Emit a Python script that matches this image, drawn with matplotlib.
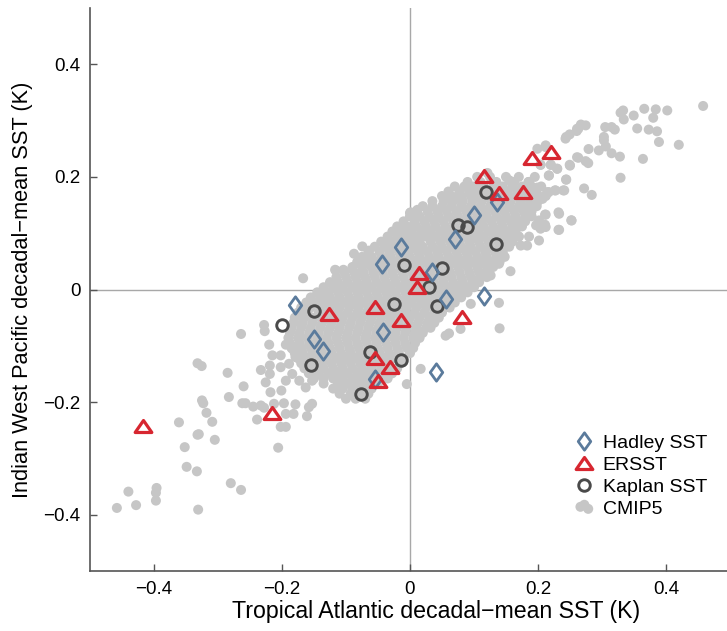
import numpy as np
import matplotlib
matplotlib.use("Agg")
import matplotlib.pyplot as plt
from matplotlib.path import Path

plt.rcParams['font.family'] = ['Liberation Sans', 'DejaVu Sans']

# observational estimates (x = Tropical Atlantic, y = Indian West Pacific), K
hadley_x = [-0.179, -0.150, -0.136, -0.043, -0.0135, -0.042, -0.055, 0.035, 0.0557, 0.040, 0.0703, 0.100, 0.136, 0.1156]
hadley_y = [-0.027, -0.088, -0.110, 0.046, 0.076, -0.076, -0.159, 0.031, -0.017, -0.146, 0.090, 0.133, 0.155, -0.0107]

ersst_x = [-0.417, -0.215, -0.127, -0.054, -0.055, -0.0495, -0.031, -0.0146, 0.014, 0.0104, 0.0807, 0.116, 0.139, 0.177, 0.190, 0.220]
ersst_y = [-0.242, -0.220, -0.043, -0.031, -0.122, -0.162, -0.138, -0.054, 0.029, 0.0053, -0.048, 0.201, 0.171, 0.174, 0.233, 0.244]

kaplan_x = [-0.1995, -0.150, -0.154, -0.077, -0.0625, -0.025, -0.0135, -0.009, 0.0297, 0.0427, 0.0495, 0.0755, 0.0896, 0.119, 0.135]
kaplan_y = [-0.063, -0.039, -0.134, -0.185, -0.111, -0.026, -0.125, 0.044, 0.0053, -0.030, 0.038, 0.114, 0.111, 0.174, 0.081]

# CMIP5 decadal means: scattered points outside the dense cloud
cmip_out_x = [-0.323, -0.262, -0.257, -0.245, -0.233, -0.228, -0.2125, -0.197, -0.179, -0.158, -0.153, -0.194,
              -0.182, -0.161, -0.239, -0.318, -0.361, -0.309, -0.330, -0.332, -0.305, -0.202, -0.194, -0.206,
              -0.352, -0.349, -0.333, -0.280, -0.264, -0.440, -0.396, -0.397, -0.397, -0.428, -0.458, -0.331,
              -0.167, -0.228, -0.227, -0.264, -0.220, -0.215, -0.202, -0.332, -0.3255, -0.285, -0.260, -0.233,
              -0.219, -0.202, -0.219, -0.2255, -0.218, -0.201, -0.194, -0.184, -0.171, -0.179, -0.189, -0.184,
              -0.194, -0.173, -0.163, -0.153, -0.283, -0.325, -0.173, -0.168, -0.132, -0.116, -0.104, -0.0875,
              -0.0745, -0.064, -0.117, -0.0755,
              0.458, 0.402, 0.384, 0.366, 0.380, 0.3495, 0.333, 0.329, 0.334, 0.355, 0.373, 0.386, 0.389, 0.420,
              0.364, 0.328, 0.329, 0.315, 0.306, 0.295, 0.303, 0.303, 0.305, 0.315, 0.320, 0.279, 0.2745, 0.267,
              0.263, 0.2605, 0.2495, 0.243, 0.263, 0.2745, 0.2785, 0.250, 0.230, 0.220, 0.204, 0.217, 0.244,
              0.272, 0.284, 0.2395, 0.2265, 0.217, 0.212, 0.207, 0.232, 0.211, 0.252, 0.211, 0.232, 0.204,
              0.244, 0.261, 0.2495, 0.261, 0.199, 0.212, 0.220, 0.230, 0.217, 0.244, 0.204, 0.186, 0.155,
              0.1625, 0.121, 0.199, 0.2145, 0.2275, 0.241, 0.0635, 0.0765, 0.1025,
              0.0, 0.0115, 0.006, 0.157, 0.139, 0.095, 0.140, 0.079, 0.0557, 0.061, 0.0167, -0.005,
              0.233, 0.233, 0.2525, 0.212, 0.1755, 0.197, 0.186, 0.170, 0.173, 0.155, 0.139, 0.1286, 0.126,
              0.1025, 0.001, 0.066, 0.186, 0.212, 0.183, 0.2016, 0.212, 0.2016, 0.207]
cmip_out_y = [-0.202, -0.202, -0.202, -0.208, -0.206, -0.210, -0.203, -0.202, -0.204, -0.209, -0.203, -0.221,
              -0.221, -0.225, -0.231, -0.219, -0.236, -0.235, -0.257, -0.258, -0.267, -0.244, -0.244, -0.281,
              -0.280, -0.315, -0.323, -0.344, -0.356, -0.359, -0.3525, -0.361, -0.375, -0.383, -0.388, -0.391,
              0.020, -0.063, -0.074, -0.079, -0.098, -0.117, -0.117, -0.131, -0.136, -0.148, -0.172, -0.143,
              -0.135, -0.138, -0.150, -0.165, -0.1825, -0.1795, -0.098, -0.105, -0.1025, -0.120, -0.132, -0.150,
              -0.162, -0.162, -0.174, -0.162, -0.191, -0.197, -0.082, -0.049, -0.0076, 0.034, 0.035, 0.0635,
              0.0765, 0.069, 0.035, 0.028,
              0.326, 0.318, 0.320, 0.321, 0.305, 0.309, 0.318, 0.314, 0.302, 0.286, 0.284, 0.281, 0.262, 0.257,
              0.232, 0.236, 0.1985, 0.242, 0.254, 0.247, 0.265, 0.271, 0.2885, 0.2885, 0.284, 0.2495, 0.2915, 0.293,
              0.2855, 0.2815, 0.2755, 0.268, 0.234, 0.228, 0.2245, 0.220, 0.2145, 0.2215, 0.2215, 0.2025, 0.1955,
              0.1795, 0.168, 0.176, 0.176, 0.173, 0.167, 0.161, 0.137, 0.133, 0.123, 0.115, 0.106, 0.108,
              0.271, 0.2855, 0.2215, 0.235, 0.250, 0.253, 0.2215, 0.2145, 0.2025, 0.195, 0.2215, 0.191, 0.194,
              0.191, 0.207, 0.181, 0.173, 0.176, 0.176, 0.161, 0.163, 0.167,
              0.136, 0.1415, 0.1155, 0.0325, -0.0237, -0.0255, -0.069, -0.070, -0.082, -0.078, -0.141, -0.168,
              0.1345, 0.106, 0.1225, 0.133, 0.146, 0.114, 0.094, 0.094, 0.078, 0.087, 0.0457, 0.0486, 0.025,
              0.016, 0.137, 0.158, 0.191, 0.256, 0.078, 0.087, 0.111, 0.1227, 0.164]

# CMIP5 dense cloud, read row by row (y level: x positions)
cmip_rows = {
    0.200: [0.105, 0.125, 0.15, 0.17, 0.195],
    0.191: [0.09, 0.11, 0.135, 0.16, 0.185],
    0.183: [0.07, 0.085, 0.10, 0.115, 0.13, 0.145, 0.16, 0.175, 0.19, 0.205],
    0.174: [0.06, 0.0775, 0.0925, 0.1075, 0.1225, 0.1375, 0.1525, 0.1675, 0.1825, 0.1975],
    0.166: [0.05, 0.065, 0.08, 0.095, 0.11, 0.125, 0.14, 0.155, 0.17, 0.185, 0.2, 0.212],
    0.157: [0.035, 0.0525, 0.0675, 0.0825, 0.0975, 0.1125, 0.1275, 0.1425, 0.1575, 0.1725, 0.1875, 0.2],
    0.148: [0.02, 0.035, 0.05, 0.065, 0.08, 0.095, 0.11, 0.125, 0.14, 0.155, 0.17, 0.185, 0.198],
    0.139: [0.01, 0.0275, 0.0425, 0.0575, 0.0725, 0.0875, 0.1025, 0.1175, 0.1325, 0.1475, 0.1625, 0.1775, 0.19],
    0.130: [0.0, 0.015, 0.03, 0.045, 0.06, 0.075, 0.09, 0.105, 0.12, 0.135, 0.15, 0.165, 0.18, 0.19],
    0.121: [-0.01, 0.0075, 0.0225, 0.0375, 0.0525, 0.0675, 0.0825, 0.0975, 0.1125, 0.1275, 0.1425, 0.1575, 0.17, 0.18],
    0.112: [-0.02, -0.005, 0.01, 0.025, 0.04, 0.055, 0.07, 0.085, 0.10, 0.115, 0.13, 0.145, 0.16, 0.175],
    0.103: [-0.0275, -0.0125, 0.0025, 0.0175, 0.0325, 0.0475, 0.0625, 0.0775, 0.0925, 0.1075, 0.1225, 0.1375, 0.1525, 0.165],
    0.094: [-0.035, -0.02, -0.005, 0.01, 0.025, 0.04, 0.055, 0.07, 0.085, 0.10, 0.115, 0.13, 0.145, 0.16, 0.17],
    0.085: [-0.045, -0.03, -0.015, 0.0, 0.015, 0.0325, 0.0475, 0.0625, 0.0775, 0.0925, 0.1075, 0.1225, 0.1375, 0.15, 0.16],
    0.076: [-0.055, -0.04, -0.025, -0.01, 0.005, 0.02, 0.035, 0.05, 0.065, 0.08, 0.095, 0.11, 0.125, 0.14, 0.155],
    0.067: [-0.065, -0.0475, -0.0325, -0.0175, -0.0025, 0.0125, 0.0275, 0.0425, 0.0575, 0.0725, 0.0875, 0.1025, 0.1175, 0.1325, 0.145],
    0.058: [-0.075, -0.06, -0.045, -0.03, -0.015, 0.0, 0.015, 0.03, 0.045, 0.06, 0.075, 0.09, 0.105, 0.12, 0.135, 0.148],
    0.049: [-0.0825, -0.0675, -0.0525, -0.0375, -0.0225, -0.0075, 0.0075, 0.0225, 0.0375, 0.0525, 0.0675, 0.0825, 0.0975, 0.1125, 0.1275, 0.14],
    0.040: [-0.09, -0.075, -0.06, -0.045, -0.03, -0.015, 0.0, 0.015, 0.03, 0.045, 0.06, 0.075, 0.09, 0.105, 0.12, 0.13],
    0.031: [-0.1025, -0.0875, -0.0725, -0.0575, -0.0425, -0.0275, -0.0125, 0.0025, 0.0175, 0.0325, 0.0475, 0.0625, 0.0775, 0.0925, 0.1075, 0.12],
    0.022: [-0.115, -0.1, -0.085, -0.07, -0.055, -0.04, -0.025, -0.01, 0.005, 0.02, 0.035, 0.05, 0.065, 0.08, 0.095, 0.11, 0.12],
    0.013: [-0.125, -0.1125, -0.0975, -0.0825, -0.0675, -0.0525, -0.0375, -0.0225, -0.0075, 0.0075, 0.0225, 0.0375, 0.0525, 0.0675, 0.0825, 0.0975, 0.108],
    0.004: [-0.135, -0.12, -0.105, -0.09, -0.075, -0.06, -0.045, -0.03, -0.015, 0.0, 0.015, 0.03, 0.045, 0.06, 0.075, 0.09, 0.10],
    -0.005: [-0.145, -0.1275, -0.1125, -0.0975, -0.0825, -0.0675, -0.0525, -0.0375, -0.0225, -0.0075, 0.0075, 0.0225, 0.0375, 0.0525, 0.0675, 0.0825, 0.09],
    -0.014: [-0.155, -0.14, -0.125, -0.11, -0.095, -0.08, -0.065, -0.05, -0.035, -0.02, -0.005, 0.01, 0.025, 0.04, 0.055, 0.07, 0.08],
    -0.023: [-0.162, -0.1475, -0.1325, -0.1175, -0.1025, -0.0875, -0.0725, -0.0575, -0.0425, -0.0275, -0.0125, 0.0025, 0.0175, 0.0325, 0.0475, 0.0625, 0.07],
    -0.032: [-0.17, -0.155, -0.14, -0.125, -0.11, -0.095, -0.08, -0.065, -0.05, -0.035, -0.02, -0.005, 0.01, 0.025, 0.04, 0.055, 0.062],
    -0.041: [-0.175, -0.16, -0.1425, -0.1275, -0.1125, -0.0975, -0.0825, -0.0675, -0.0525, -0.0375, -0.0225, -0.0075, 0.0075, 0.0225, 0.0375, 0.05],
    -0.050: [-0.18, -0.165, -0.15, -0.135, -0.12, -0.105, -0.09, -0.075, -0.06, -0.045, -0.03, -0.015, 0.0, 0.015, 0.03, 0.045],
    -0.059: [-0.182, -0.1675, -0.1525, -0.1375, -0.1225, -0.1075, -0.0925, -0.0775, -0.0625, -0.0475, -0.0325, -0.0175, -0.0025, 0.0125, 0.0275, 0.038],
    -0.068: [-0.185, -0.17, -0.155, -0.14, -0.125, -0.11, -0.095, -0.08, -0.065, -0.05, -0.035, -0.02, -0.005, 0.01, 0.025, 0.032],
    -0.077: [-0.1875, -0.1725, -0.1575, -0.1425, -0.1275, -0.1125, -0.0975, -0.0825, -0.0675, -0.0525, -0.0375, -0.0225, -0.0075, 0.0075, 0.02],
    -0.086: [-0.19, -0.175, -0.16, -0.145, -0.13, -0.115, -0.1, -0.085, -0.07, -0.055, -0.04, -0.025, -0.01, 0.005, 0.015],
    -0.095: [-0.1875, -0.1725, -0.1575, -0.1425, -0.1275, -0.1125, -0.0975, -0.0825, -0.0675, -0.0525, -0.0375, -0.0225, -0.0075, 0.008],
    -0.104: [-0.185, -0.17, -0.155, -0.14, -0.125, -0.11, -0.095, -0.08, -0.065, -0.05, -0.035, -0.02, -0.005, 0.005],
    -0.113: [-0.18, -0.1675, -0.1525, -0.1375, -0.1225, -0.1075, -0.0925, -0.0775, -0.0625, -0.0475, -0.0325, -0.0175, 0.0],
    -0.122: [-0.175, -0.16, -0.145, -0.13, -0.115, -0.1, -0.085, -0.07, -0.055, -0.04, -0.025, -0.01],
    -0.131: [-0.17, -0.1525, -0.1375, -0.1225, -0.1075, -0.0925, -0.0775, -0.0625, -0.0475, -0.0325, -0.015],
    -0.140: [-0.165, -0.15, -0.135, -0.12, -0.105, -0.09, -0.075, -0.06, -0.045, -0.03, -0.02],
    -0.149: [-0.158, -0.1425, -0.1275, -0.1125, -0.0975, -0.0825, -0.0675, -0.0525, -0.0375, -0.028],
    -0.158: [-0.15, -0.135, -0.12, -0.105, -0.09, -0.075, -0.06, -0.045, -0.035],
    -0.167: [-0.135, -0.1125, -0.0975, -0.0825, -0.0675, -0.05],
    -0.176: [-0.12, -0.105, -0.09, -0.075, -0.06],
    -0.185: [-0.11, -0.0925, -0.0775, -0.065],
    -0.194: [-0.10, -0.085, -0.07],
}

cmip_x = list(cmip_out_x)
cmip_y = list(cmip_out_y)
for yv, xs in cmip_rows.items():
    cmip_x += xs
    cmip_y += [yv] * len(xs)

ticks = [-0.4, -0.2, 0, 0.2, 0.4]
tick_labels = ['\u22120.4', '\u22120.2', '0', '0.2', '0.4']

# marker shapes
diamond = Path([(0, 1), (0.72, 0), (0, -1), (-0.72, 0), (0, 1)],
               [Path.MOVETO, Path.LINETO, Path.LINETO, Path.LINETO, Path.CLOSEPOLY])
triangle = Path([(0, 0.72), (1, -0.72), (-1, -0.72), (0, 0.72)],
                [Path.MOVETO, Path.LINETO, Path.LINETO, Path.CLOSEPOLY])

fig = plt.figure(figsize=(7.27, 6.31), dpi=100)
ax = fig.add_axes([90 / 727, 60 / 631, 640 / 727, 563 / 631])

ax.axhline(0, color='#a8a8a8', lw=1.0, zorder=1)
ax.axvline(0, color='#a8a8a8', lw=1.0, zorder=1)

cm = ax.scatter(cmip_x, cmip_y, s=52, color='#c6c6c6', edgecolors='none', zorder=2, label='CMIP5')
k, = ax.plot(kaplan_x, kaplan_y, ls='none', marker='o', ms=8.3, mfc='none', mec='#4a4a4a', mew=2.1,
             zorder=3, label='Kaplan SST')
h, = ax.plot(hadley_x, hadley_y, ls='none', marker=diamond, ms=12.5, mfc='none', mec='#5b7b9c', mew=2.0,
             zorder=4, label='Hadley SST')
e, = ax.plot(ersst_x, ersst_y, ls='none', marker=triangle, ms=12, mfc='none', mec='#d72630', mew=2.3,
             zorder=5, label='ERSST')

ax.set_xlim(-0.5, 0.5)
ax.set_ylim(-0.5, 0.5)
ax.set_xticks(ticks)
ax.set_xticklabels(tick_labels)
ax.set_yticks(ticks)
ax.set_yticklabels(tick_labels)
ax.tick_params(direction='in', length=5, width=1, color='#555555', labelsize=13.5, pad=7)

for s in ('top', 'right'):
    ax.spines[s].set_visible(False)
for s in ('left', 'bottom'):
    ax.spines[s].set_color('#555555')
    ax.spines[s].set_linewidth(1.2)

ax.set_xlabel('Tropical Atlantic decadal\u2212mean SST (K)', fontsize=16.7)
ax.xaxis.set_label_coords(0.541, -0.051)
ax.set_ylabel('Indian West Pacific decadal\u2212mean SST (K)', fontsize=15.7, labelpad=7)

ax.legend([h, e, k, cm], ['Hadley SST', 'ERSST', 'Kaplan SST', 'CMIP5'],
          loc='upper left', bbox_to_anchor=(0.742, 0.26), frameon=False, fontsize=14,
          handlelength=1.0, handletextpad=0.45, labelspacing=0.22, borderpad=0,
          numpoints=1, scatterpoints=3, scatteryoffsets=[0.5, 0.65, 0.35])

fig.savefig('out.png', dpi=100)
